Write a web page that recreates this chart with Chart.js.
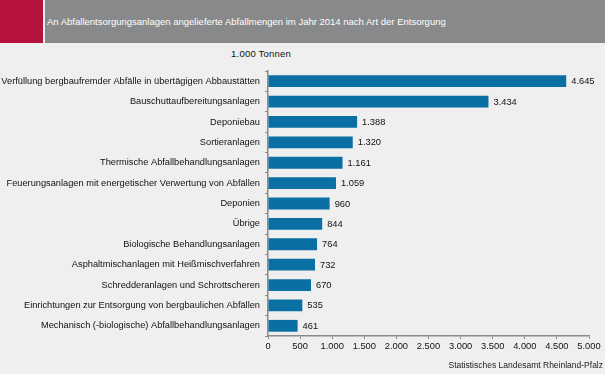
<!DOCTYPE html>
<html>
<head>
<meta charset="utf-8">
<script src="https://cdn.jsdelivr.net/npm/chart.js@4/dist/chart.umd.min.js"></script>
<style>
  html, body { margin: 0; padding: 0; }
  body { width: 605px; height: 374px; background: #eeefee; position: relative; overflow: hidden;
         font-family: "Liberation Sans", Arial, sans-serif; }
  #red { position: absolute; left: 0; top: 0; width: 43px; height: 43px; background: #b5123e; }
  #head { position: absolute; left: 45px; top: 0; width: 560px; height: 43px; background: #88898a;
          color: #fff; font-size: 9.5px; line-height: 44px; padding-left: 2px; box-sizing: border-box; }
  #unit { position: absolute; left: 0; width: 522px; top: 48px; text-align: center; font-size: 9.5px;
          letter-spacing: 0.2px; color: #111; }
  #source { position: absolute; right: 2px; top: 360px; font-size: 8.5px; color: #222; }
  #wrap { position: absolute; left: 0; top: 0; width: 605px; height: 374px; }
</style>
</head>
<body>
<div id="red"></div>
<div id="head">An Abfallentsorgungsanlagen angelieferte Abfallmengen im Jahr 2014 nach Art der Entsorgung</div>
<div id="unit">1.000 Tonnen</div>
<div id="wrap"><canvas id="chart"></canvas></div>
<div id="source">Statistisches Landesamt Rheinland-Pfalz</div>
<script>
const categories = [
  "Verfüllung bergbaufremder Abfälle in übertägigen Abbaustätten",
  "Bauschuttaufbereitungsanlagen",
  "Deponiebau",
  "Sortieranlagen",
  "Thermische Abfallbehandlungsanlagen",
  "Feuerungsanlagen mit energetischer Verwertung von Abfällen",
  "Deponien",
  "Übrige",
  "Biologische Behandlungsanlagen",
  "Asphaltmischanlagen mit Heißmischverfahren",
  "Schredderanlagen und Schrottscheren",
  "Einrichtungen zur Entsorgung von bergbaulichen Abfällen",
  "Mechanisch (-biologische) Abfallbehandlungsanlagen"
];
const tonnen = [4645, 3434, 1388, 1320, 1161, 1059, 960, 844, 764, 732, 670, 535, 461];
const xMax = 5000;
const xStep = 500;

function deNum(v) {
  return String(Math.round(v)).replace(/\B(?=(\d{3})+(?!\d))/g, ".");
}

const valueLabels = {
  id: "valueLabels",
  afterDatasetsDraw(chart) {
    const ctx = chart.ctx;
    const meta = chart.getDatasetMeta(0);
    ctx.save();
    ctx.font = "9.3px 'Liberation Sans', Arial, sans-serif";
    ctx.fillStyle = "#111";
    ctx.textAlign = "left";
    ctx.textBaseline = "middle";
    meta.data.forEach((bar, i) => {
      ctx.fillText(deNum(tonnen[i]), bar.x + 5, bar.y + 0.5);
    });
    ctx.restore();
  }
};

new Chart(document.getElementById("chart"), {
  type: "bar",
  data: {
    labels: categories,
    datasets: [{
      data: tonnen,
      backgroundColor: "#0a70a3",
      barPercentage: 0.58,
      categoryPercentage: 1
    }]
  },
  options: {
    indexAxis: "y",
    responsive: true,
    maintainAspectRatio: false,
    animation: false,
    layout: { padding: { top: 71, right: 16, left: 0, bottom: 0 } },
    plugins: { legend: { display: false }, tooltip: { enabled: false } },
    scales: {
      x: {
        min: 0,
        max: xMax,
        ticks: {
          stepSize: xStep,
          color: "#111",
          padding: 2,
          maxRotation: 0,
          font: { family: "'Liberation Sans', Arial, sans-serif", size: 9.3 },
          callback: v => deNum(v)
        },
        grid: { drawOnChartArea: false, tickLength: 3, color: "#8a8a8a" },
        border: { color: "#8a8a8a", width: 1.5 },
        afterFit(scale) { scale.height = 38; scale.paddingLeft = 0; scale.paddingRight = 0; }
      },
      y: {
        ticks: {
          color: "#111",
          padding: 5,
          autoSkip: false,
          font: { family: "'Liberation Sans', Arial, sans-serif", size: 9.25 }
        },
        grid: { drawOnChartArea: false, tickLength: 3, color: "#8a8a8a", offset: true },
        border: { color: "#8a8a8a", width: 1.5 },
        afterFit(scale) { scale.width = 268; scale.paddingTop = 0; scale.paddingBottom = 0; }
      }
    }
  },
  plugins: [valueLabels]
});
</script>
</body>
</html>
